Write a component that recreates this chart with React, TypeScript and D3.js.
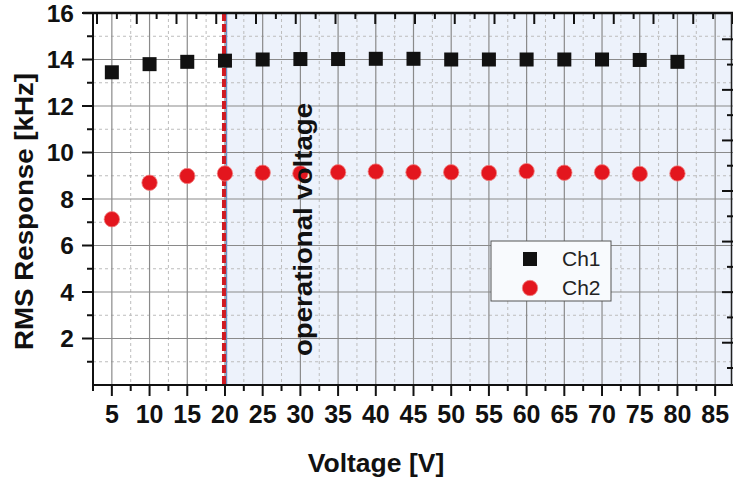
import React from "react"
import * as d3 from "d3"

const voltages = [5, 10, 15, 20, 25, 30, 35, 40, 45, 50, 55, 60, 65, 70, 75, 80]
const ch1 = [13.45, 13.8, 13.9, 13.95, 14.0, 14.02, 14.02, 14.03, 14.03, 14.0, 14.0, 14.0, 14.0, 14.0, 13.98, 13.9]
const ch2 = [7.13, 8.7, 8.99, 9.1, 9.13, 9.1, 9.15, 9.18, 9.15, 9.15, 9.12, 9.2, 9.13, 9.15, 9.08, 9.1]
const xTickLabels = [5, 10, 15, 20, 25, 30, 35, 40, 45, 50, 55, 60, 65, 70, 75, 80, 85]
const yTickLabels = [2, 4, 6, 8, 10, 12, 14, 16]
const seriesNames = ["Ch1", "Ch2"]
const operationalVoltage = 20

const W = 733
const H = 483
const font = "'Liberation Sans', Arial, Helvetica, sans-serif"

export default function App() {
  const left = 93, top = 13, bottom = 385, right = 734

  const x = d3.scaleLinear().domain([2.5, 87.5]).range([left, right])
  const y = d3.scaleLinear().domain([0, 16]).range([bottom, top])
  // the frame's top and right ticks do not follow the data scales in the original
  const topScale = d3.scaleLinear().domain([0, 16]).range([97, 733])
  const rightScale = d3.scaleLinear().domain([0, 13]).range([39.3, 368])

  const xMinor = d3.range(2.5, 87.6, 2.5)
  const yMinor = d3.range(1, 16, 1)
  const xOp = x(operationalVoltage)

  return (
    <svg width={W} height={H} style={{ position: "absolute", left: 0, top: 0, background: "#fff" }}
      fontFamily={font}>
      {/* shaded operational region */}
      <rect x={xOp} y={top} width={right - xOp} height={bottom - top} fill="#edf2fb" />

      {/* minor grid */}
      {xMinor.filter(v => v % 5 !== 0).map(v => (
        <line key={"xm" + v} x1={x(v)} x2={x(v)} y1={top} y2={bottom}
          stroke="#bdbdbd" strokeDasharray="3,3" strokeWidth={1} />
      ))}
      {yMinor.filter(v => v % 2 !== 0).map(v => (
        <line key={"ym" + v} x1={left} x2={right} y1={y(v)} y2={y(v)}
          stroke="#bdbdbd" strokeDasharray="3,3" strokeWidth={1} />
      ))}
      {/* major grid */}
      {xTickLabels.map(v => (
        <line key={"xg" + v} x1={x(v)} x2={x(v)} y1={top} y2={bottom} stroke="#8a8a8a" strokeWidth={1.2} />
      ))}
      {yTickLabels.filter(v => v < 16).map(v => (
        <line key={"yg" + v} x1={left} x2={right} y1={y(v)} y2={y(v)} stroke="#8a8a8a" strokeWidth={1.2} />
      ))}

      {/* operational voltage marker */}
      <line x1={xOp + 1.5} x2={xOp + 1.5} y1={top} y2={bottom} stroke="#6b8fc4" strokeWidth={1.5} />
      <line x1={xOp - 1} x2={xOp - 1} y1={top} y2={bottom} stroke="#d01a22" strokeWidth={4} strokeDasharray="8,3" />

      {/* frame */}
      <line x1={left} x2={left} y1={top} y2={bottom + 1} stroke="#111" strokeWidth={2} />
      <line x1={left - 1} x2={right} y1={bottom} y2={bottom} stroke="#111" strokeWidth={2} />
      <line x1={83} x2={right} y1={top} y2={top} stroke="#111" strokeWidth={2.5} />
      <line x1={731.5} x2={731.5} y1={top} y2={bottom} stroke="#222" strokeWidth={1.5} />

      {/* bottom ticks */}
      {xMinor.map(v => (
        <line key={"bt" + v} x1={x(v)} x2={x(v)} y1={bottom} y2={bottom + (v % 5 === 0 ? 11 : 6)}
          stroke="#111" strokeWidth={2} />
      ))}
      {/* left ticks */}
      {d3.range(1, 17).map(v => (
        <line key={"lt" + v} x1={left} x2={left - (v % 2 === 0 ? 11 : 6)} y1={y(v)} y2={y(v)}
          stroke="#111" strokeWidth={2} />
      ))}
      {/* top ticks */}
      {d3.range(0, 16.01, 0.5).map(v => (
        <line key={"tt" + v} x1={topScale(v)} x2={topScale(v)} y1={top} y2={top + (v % 1 === 0 ? 11 : 6)}
          stroke="#111" strokeWidth={2} />
      ))}
      {/* right ticks */}
      {d3.range(0, 14).map(v => (
        <line key={"rt" + v} x1={733} x2={733 - (v % 2 === 0 ? 11 : 6)} y1={rightScale(v)} y2={rightScale(v)}
          stroke="#111" strokeWidth={2} />
      ))}

      {/* tick labels */}
      {xTickLabels.map(v => (
        <text key={"xl" + v} x={x(v)} y={423} textAnchor="middle" fontSize={25} fontWeight="bold" fill="#111">
          {v}
        </text>
      ))}
      {yTickLabels.map(v => (
        <text key={"yl" + v} x={74} y={y(v)} dy="0.36em" textAnchor="end" fontSize={24.5} fontWeight="bold" fill="#111">
          {v}
        </text>
      ))}

      {/* data */}
      {voltages.map((v, i) => (
        <rect key={"s" + v} x={x(v) - 7} y={y(ch1[i]) - 7} width={14} height={14} fill="#111" />
      ))}
      {voltages.map((v, i) => (
        <circle key={"c" + v} cx={x(v)} cy={y(ch2[i])} r={7.7} fill="#e3161e" stroke="#f08080" strokeWidth={0.8} />
      ))}

      {/* annotation */}
      <text transform={`translate(303,229.5) rotate(-90)`} textAnchor="middle" dominantBaseline="central"
        fontSize={25} fontWeight="bold" fill="#111" textLength={253} lengthAdjust="spacingAndGlyphs">
        operational voltage
      </text>

      {/* legend */}
      <rect x={491} y={241} width={120} height={60} fill="#f8fafd" stroke="#555" strokeWidth={1} />
      <rect x={523} y={252} width={14} height={14} fill="#111" />
      <circle cx={530} cy={288} r={7.7} fill="#e3161e" stroke="#f08080" strokeWidth={0.8} />
      <text x={562} y={266} fontSize={21} fill="#222">{seriesNames[0]}</text>
      <text x={562} y={295} fontSize={21} fill="#222">{seriesNames[1]}</text>

      {/* axis titles */}
      <text x={376} y={472} textAnchor="middle" fontSize={26.5} fontWeight="bold" fill="#111">Voltage [V]</text>
      <text transform={`translate(33,211.5) rotate(-90)`} textAnchor="middle" fontSize={26} fontWeight="bold"
        fill="#111" textLength={277} lengthAdjust="spacingAndGlyphs">
        RMS Response [kHz]
      </text>
    </svg>
  )
}
